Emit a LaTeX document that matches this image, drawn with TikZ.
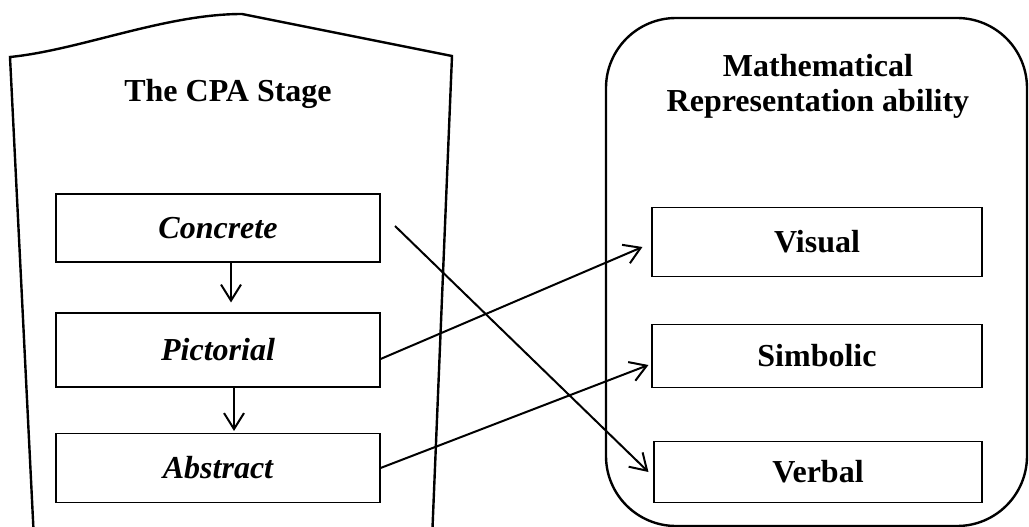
\documentclass[tikz,border=0pt]{standalone}
\usepackage{fontspec}
\setmainfont{Liberation Serif}
\usetikzlibrary{arrows.meta}
\begin{document}
\begin{tikzpicture}[x=1pt,y=-1pt,
    stagebox/.style={draw, line width=1.1pt, inner sep=0pt, minimum width=324pt, font=\fontsize{32}{36}\selectfont\bfseries\itshape},
    abilitybox/.style={draw, line width=1.1pt, inner sep=0pt, minimum width=330pt, font=\fontsize{32}{36}\selectfont\bfseries},
    title/.style={align=center, font=\fontsize{32}{35}\selectfont\bfseries},
    link/.style={line width=2pt, -{Straight Barb[length=16pt,width=20pt,line width=2pt]}}]
    \useasboundingbox (0,0) rectangle (1029,527);
    \clip (0,0) rectangle (1029,527);
    \draw[line width=2.4pt] (34,540) -- (10,57) .. controls (80,50) and (165,14) .. (242,14) -- (452,56) -- (432,540);
    \draw[line width=2.4pt, rounded corners=70pt] (606,18) rectangle (1027,526);
    \node[title] (cpa) at (228,94) {The CPA Stage};
    \node[title] (mra) at (818,86) {Mathematical\\Representation ability};
    \node[stagebox, minimum height=68pt] (concrete) at (218,228) {Concrete};
    \node[stagebox, minimum height=74pt] (pictorial) at (218,350) {Pictorial};
    \node[stagebox, minimum height=69pt] (abstract) at (218,468) {Abstract};
    \node[abilitybox, minimum height=69pt] (visual) at (817,242) {Visual};
    \node[abilitybox, minimum height=63pt] (simbolic) at (817,356) {Simbolic};
    \node[abilitybox, minimum height=61pt, minimum width=328pt] (verbal) at (818,472) {Verbal};
    \coordinate (start) at (395,226);
    \draw[link] ([xshift=13pt]concrete.south) -- ([xshift=13pt,yshift=10pt]pictorial.north);
    \draw[link] ([xshift=16pt]pictorial.south) -- ([xshift=16pt,yshift=2pt]abstract.north);
    \draw[link] (start) -- ([xshift=-5pt]verbal.west);
    \draw[link] ([yshift=-9pt]pictorial.east) -- ([xshift=-9pt,yshift=-5pt]visual.west);
    \draw[link] (abstract.east) -- ([xshift=-3pt,yshift=-9pt]simbolic.west);
\end{tikzpicture}
\end{document}
